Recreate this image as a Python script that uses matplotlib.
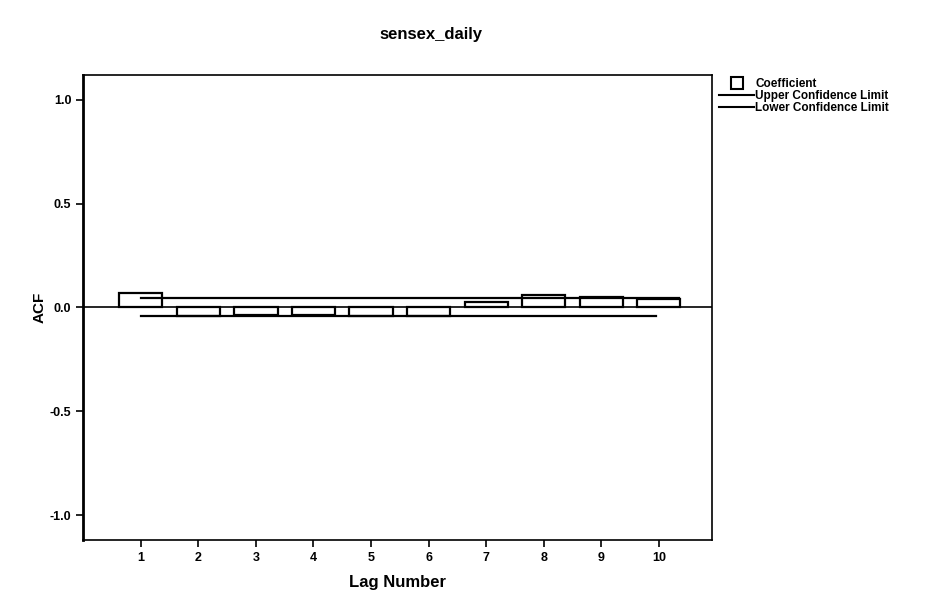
import matplotlib.pyplot as plt
from matplotlib.lines import Line2D

# data
lags = [1, 2, 3, 4, 5, 6, 7, 8, 9, 10]
acf = [0.068, -0.040, -0.038, -0.038, -0.040, -0.040, 0.025, 0.060, 0.050, 0.040]
upper_x = [1.0, 10.35]
upper = [0.045, 0.045]
lower_x = [1.0, 9.95]
lower = [-0.043, -0.043]

plt.rcParams['font.family'] = ['Liberation Sans', 'DejaVu Sans']

fig = plt.figure(figsize=(9.36, 5.94), dpi=100)
ax = fig.add_axes([0.089, 0.091, 0.672, 0.783])

ax.bar(lags, acf, width=0.75, facecolor='white', edgecolor='black', linewidth=1.6, zorder=2)
ax.plot(upper_x, upper, color='black', linewidth=1.6, zorder=3)
ax.plot(lower_x, lower, color='black', linewidth=1.6, zorder=3)
ax.axhline(0, color='black', linewidth=1.2, zorder=4)

ax.set_xlim(0, 10.93)
ax.set_ylim(-1.12, 1.12)
ax.set_xticks(lags)
ax.set_yticks([-1.0, -0.5, 0.0, 0.5, 1.0])
ax.set_yticklabels(['-1.0', '-0.5', '0.0', '0.5', '1.0'])
ax.tick_params(direction='out', length=5, width=1.2, labelsize=9)
for lab in ax.get_xticklabels() + ax.get_yticklabels():
    lab.set_fontweight('bold')
for sp in ax.spines.values():
    sp.set_linewidth(1.2)
ax.spines['left'].set_linewidth(2)

ax.set_xlabel('Lag Number', fontsize=12, fontweight='bold', labelpad=8)
ax.set_ylabel('ACF', fontsize=11, fontweight='bold', labelpad=2)
fig.suptitle('sensex_daily', x=0.46, y=0.955, fontsize=12, fontweight='bold')

handles = [Line2D([], [], linestyle='none', marker='s', markersize=9,
                  markerfacecolor='white', markeredgecolor='black', markeredgewidth=1.5),
           Line2D([], [], color='black', linewidth=1.5),
           Line2D([], [], color='black', linewidth=1.5)]
labels = ['Coefficient', 'Upper Confidence Limit', 'Lower Confidence Limit']
leg = fig.legend(handles, labels, loc='upper left', bbox_to_anchor=(0.768, 0.868),
                 frameon=False, prop={'size': 8.5, 'weight': 'bold'},
                 handlelength=3.0, handletextpad=0.1, labelspacing=0.0,
                 borderpad=0, borderaxespad=0)

fig.savefig('out.png', dpi=100)
